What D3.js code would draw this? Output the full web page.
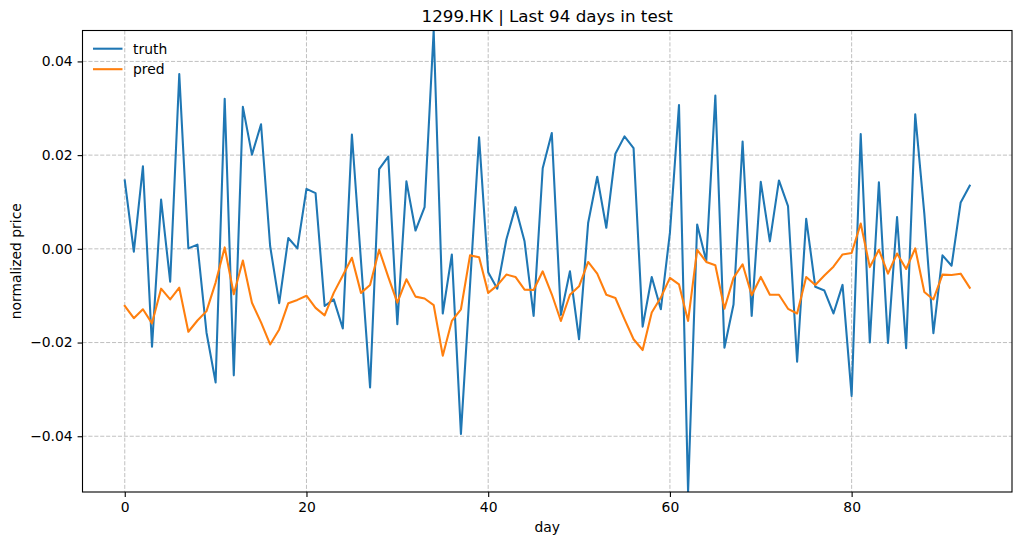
<!DOCTYPE html>
<html>
<head>
<meta charset="utf-8">
<script src="https://cdn.jsdelivr.net/npm/d3@7"></script>
<style>
  body { margin: 0; background: #fff; }
  text { font-family: "DejaVu Sans", sans-serif; fill: #000; }
</style>
</head>
<body>
<div id="chart"></div>
<script>
const title = '1299.HK | Last 94 days in test';

const truth = [
    0.0146, -0.0006, 0.0176, -0.0209, 0.0105, -0.0070, 0.0373, 0.0001, 0.0009, -0.0179,
    -0.0285, 0.0320, -0.0270, 0.0303, 0.0201, 0.0266, 0.0006, -0.0116, 0.0023, 0.0001,
    0.0128, 0.0119, -0.0122, -0.0108, -0.0170, 0.0244, -0.0026, -0.0296, 0.0170, 0.0197,
    -0.0161, 0.0144, 0.0039, 0.0089, 0.0466, -0.0138, -0.0012, -0.0395, -0.0078, 0.0238,
    -0.0050, -0.0085, 0.0020, 0.0089, 0.0016, -0.0143, 0.0172, 0.0247, -0.0141, -0.0048,
    -0.0193, 0.0055, 0.0154, 0.0045, 0.0203, 0.0240, 0.0215, -0.0166, -0.0060, -0.0129,
    0.0034, 0.0307, -0.0519, 0.0052, -0.0026, 0.0327, -0.0211, -0.0119, 0.0229, -0.0143,
    0.0143, 0.0016, 0.0146, 0.0091, -0.0241, 0.0064, -0.0081, -0.0089, -0.0138, -0.0077,
    -0.0314, 0.0245, -0.0200, 0.0142, -0.0201, 0.0068, -0.0212, 0.0287, 0.0075, -0.0180,
    -0.0014, -0.0036, 0.0099, 0.0135
];

const pred = [
    -0.0122, -0.0148, -0.0129, -0.0159, -0.0085, -0.0108, -0.0083, -0.0177, -0.0153, -0.0133,
    -0.0072, 0.0003, -0.0097, -0.0025, -0.0115, -0.0157, -0.0204, -0.0172, -0.0116, -0.0109,
    -0.0100, -0.0126, -0.0142, -0.0094, -0.0057, -0.0019, -0.0094, -0.0077, -0.0002, -0.0060,
    -0.0115, -0.0065, -0.0102, -0.0106, -0.0120, -0.0228, -0.0154, -0.0129, -0.0014, -0.0018,
    -0.0094, -0.0078, -0.0055, -0.0060, -0.0087, -0.0088, -0.0048, -0.0097, -0.0154, -0.0098,
    -0.0080, -0.0028, -0.0053, -0.0098, -0.0105, -0.0150, -0.0193, -0.0216, -0.0136, -0.0104,
    -0.0062, -0.0076, -0.0154, -0.0002, -0.0028, -0.0035, -0.0128, -0.0062, -0.0033, -0.0099,
    -0.0060, -0.0098, -0.0098, -0.0128, -0.0138, -0.0060, -0.0077, -0.0057, -0.0038, -0.0012,
    -0.0009, 0.0054, -0.0039, -0.0002, -0.0053, -0.0010, -0.0043, 0.0001, -0.0092, -0.0108,
    -0.0055, -0.0056, -0.0053, -0.0083
];

const xTicks = [0, 20, 40, 60, 80];
const yTicks = [-0.04, -0.02, 0.00, 0.02, 0.04];

const series = [
    { name: 'truth', values: truth, color: '#1f77b4' },
    { name: 'pred', values: pred, color: '#ff7f0e' },
];

const width = 1025;
const height = 545;
const margin = { top: 30.5, right: 13, bottom: 53, left: 82.5 };

const svg = d3.select('#chart')
    .append('svg')
    .attr('width', width)
    .attr('height', height);

const n = truth.length;
const xScale = d3.scaleLinear()
    .domain([-(n - 1) * 0.05, (n - 1) * 1.05])
    .range([margin.left, width - margin.right]);

const yScale = d3.scaleLinear()
    .domain(d3.extent(truth))
    .range([height - margin.bottom, margin.top]);

const fmt = v => d3.format('.2f')(v).replace('-', '\u2212');

// grid
const grid = svg.append('g')
    .attr('stroke', '#b0b0b0')
    .attr('stroke-width', 0.8)
    .attr('stroke-dasharray', '4.1,1.8');

grid.selectAll('.vg')
    .data(xTicks)
    .enter()
    .append('line')
    .attr('x1', d => xScale(d))
    .attr('x2', d => xScale(d))
    .attr('y1', margin.top)
    .attr('y2', height - margin.bottom);

grid.selectAll('.hg')
    .data(yTicks)
    .enter()
    .append('line')
    .attr('x1', margin.left)
    .attr('x2', width - margin.right)
    .attr('y1', d => yScale(d))
    .attr('y2', d => yScale(d));

svg.append('clipPath')
    .attr('id', 'plot-clip')
    .append('rect')
    .attr('x', margin.left)
    .attr('y', margin.top)
    .attr('width', width - margin.left - margin.right)
    .attr('height', height - margin.top - margin.bottom);

const line = d3.line()
    .x((d, i) => xScale(i))
    .y(d => yScale(d));

svg.append('g')
    .attr('clip-path', 'url(#plot-clip)')
    .selectAll('path')
    .data(series)
    .enter()
    .append('path')
    .attr('d', d => line(d.values))
    .attr('fill', 'none')
    .attr('stroke', d => d.color)
    .attr('stroke-width', 2.08)
    .attr('stroke-linejoin', 'round')
    .attr('stroke-linecap', 'square');

// axes
const xAxis = svg.append('g')
    .attr('transform', `translate(0, ${height - margin.bottom})`)
    .call(d3.axisBottom(xScale).tickValues(xTicks).tickSize(4.9).tickPadding(4.9).tickFormat(d3.format('d')));

const yAxis = svg.append('g')
    .attr('transform', `translate(${margin.left}, 0)`)
    .call(d3.axisLeft(yScale).tickValues(yTicks).tickSize(4.9).tickPadding(4.9).tickFormat(fmt));

[xAxis, yAxis].forEach(a => {
    a.select('.domain').remove();
    a.selectAll('line').attr('stroke', '#000').attr('stroke-width', 1.1);
    a.selectAll('text')
        .attr('font-family', '"DejaVu Sans", sans-serif')
        .attr('font-size', 13.9)
        .attr('fill', '#000');
});

// frame
svg.append('rect')
    .attr('x', margin.left)
    .attr('y', margin.top)
    .attr('width', width - margin.left - margin.right)
    .attr('height', height - margin.top - margin.bottom)
    .attr('fill', 'none')
    .attr('stroke', '#000')
    .attr('stroke-width', 1.1);

// labels
svg.append('text')
    .attr('x', (margin.left + width - margin.right) / 2)
    .attr('y', 22)
    .attr('text-anchor', 'middle')
    .attr('font-size', 16.7)
    .text(title);

svg.append('text')
    .attr('x', (margin.left + width - margin.right) / 2)
    .attr('y', 532)
    .attr('text-anchor', 'middle')
    .attr('font-size', 13.9)
    .text('day');

svg.append('text')
    .attr('transform', `translate(21, ${(margin.top + height - margin.bottom) / 2}) rotate(-90)`)
    .attr('text-anchor', 'middle')
    .attr('font-size', 13.9)
    .text('normalized price');

// legend
const legend = svg.append('g')
    .selectAll('g')
    .data(series)
    .enter()
    .append('g')
    .attr('transform', (d, i) => `translate(93, ${48.7 + i * 20.5})`);

legend.append('line')
    .attr('x1', 0)
    .attr('x2', 29.5)
    .attr('stroke', d => d.color)
    .attr('stroke-width', 2.08);

legend.append('text')
    .attr('x', 40)
    .attr('y', 5)
    .attr('font-size', 13.9)
    .text(d => d.name);
</script>
</body>
</html>
